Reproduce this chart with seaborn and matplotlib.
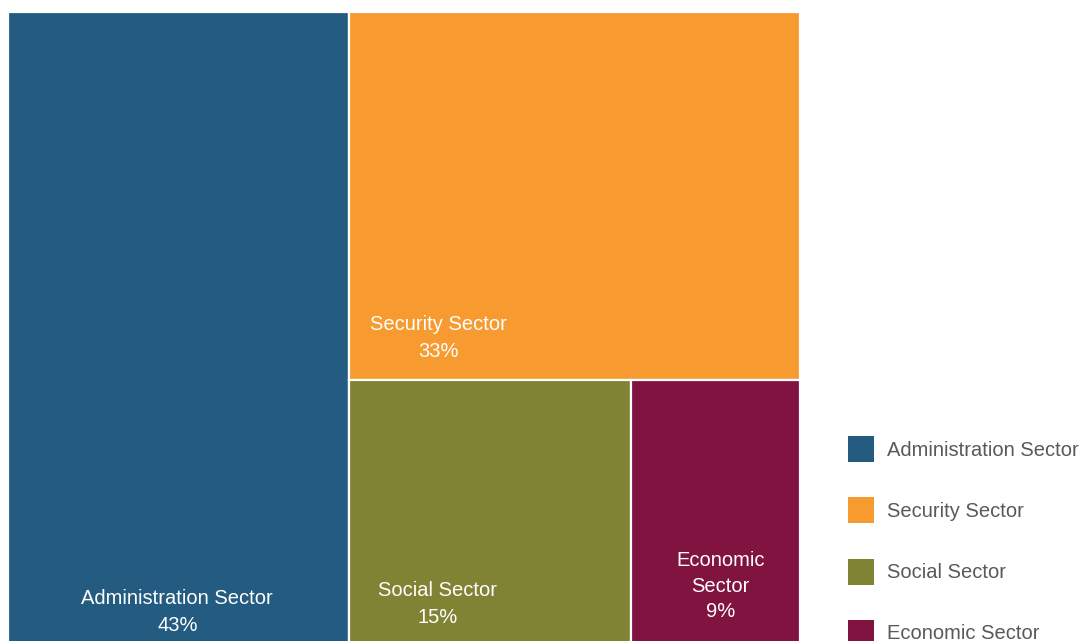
import matplotlib
matplotlib.use("Agg")
import matplotlib.pyplot as plt
from matplotlib.patches import Rectangle, Patch
import seaborn as sns

# ---- data ----
categories = ["Administration Sector", "Security Sector", "Social Sector", "Economic Sector"]
shares = [43, 33, 15, 9]
labels = ["Administration Sector\n43%", "Security Sector\n33%", "Social Sector\n15%", "Economic\nSector\n9%"]
colors = ["#235B81", "#F79A2F", "#808234", "#80133F"]

# ---- styles ----
sns.set_theme(style="white")
plt.rcParams["font.family"] = ["Liberation Sans", "DejaVu Sans"]

W, H = 792.0, 636.0  # layout extent (axes units)
label_xfrac = [0.497, 0.2, 0.316, 0.53]
label_yoff = [36, 42, 44, 62]
label_ls = [1.55, 1.55, 1.55, 1.45]


def worst(row, side):
    s = sum(row)
    mx, mn = max(row), min(row)
    return max(side * side * mx / (s * s), s * s / (side * side * mn))


def squarify(vals, x, y, w, h):
    rects = []
    vals = list(vals)
    while vals:
        side = min(w, h)
        row = [vals[0]]
        i = 1
        while i < len(vals) and worst(row + [vals[i]], side) <= worst(row, side):
            row.append(vals[i])
            i += 1
        vals = vals[i:]
        s = sum(row)
        if w >= h:  # column on left
            cw = s / h
            cy = y
            for v in row:
                rh = v / cw
                rects.append((x, cy, cw, rh))
                cy += rh
            x += cw
            w -= cw
        else:  # row on top
            rh = s / w
            cx = x
            for v in row:
                rw = v / rh
                rects.append((cx, y, rw, rh))
                cx += rw
            y += rh
            h -= rh
    return rects


total = float(sum(shares))
areas = [v / total * W * H for v in shares]
rects = squarify(areas, 0, 0, W, H)

fig = plt.figure(figsize=(10.91, 6.41), dpi=100)
ax = fig.add_axes([8 / 1091, (641 - 648) / 641, W / 1091, H / 641])
ax.set_xlim(0, W)
ax.set_ylim(H, 0)
ax.axis("off")

for (x, y, w, h), c, lab, xf, yo, ls in zip(rects, colors, labels, label_xfrac, label_yoff, label_ls):
    ax.add_patch(Rectangle((x, y), w, h, facecolor=c, edgecolor="white", linewidth=1.6))
    ax.text(x + w * xf, y + h - yo, lab, color="white", fontsize=14.5,
            ha="center", va="center", linespacing=ls)

handles = [Patch(facecolor=c, edgecolor="none") for c in colors]
fig.legend(handles, categories, loc="upper left",
           bbox_to_anchor=(848 / 1091, 1 - 436 / 641), bbox_transform=fig.transFigure,
           frameon=False, borderpad=0, borderaxespad=0, fontsize=14.5,
           handlelength=1.29, handleheight=1.61, handletextpad=0.65, labelspacing=1.75,
           labelcolor="#595959")

fig.savefig("out.png", dpi=100)
